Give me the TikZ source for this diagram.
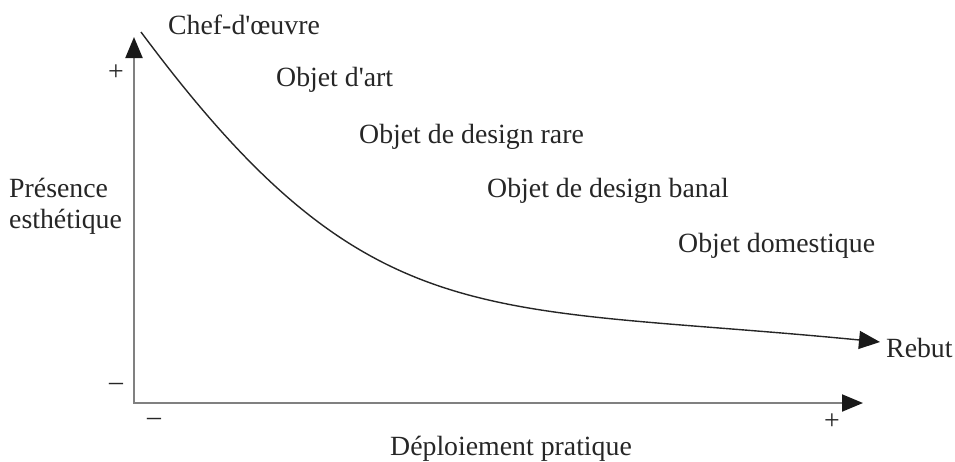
\documentclass[tikz,border=0pt]{standalone}
\usepackage{fontspec}
\setmainfont{Liberation Serif}[Ligatures=TeXOff]
\usetikzlibrary{arrows.meta}
\begin{document}
\begin{tikzpicture}[x=1pt,y=-1pt,
  lbl/.style={inner sep=0pt,anchor=base west,font=\fontsize{27.8}{32}\selectfont,text=black!85},
  sgn/.style={inner sep=0pt,anchor=center,font=\fontsize{27.8}{32}\selectfont,text=black!85},
  axis/.style={draw=black!50,line width=2pt,-{Triangle[length=21pt,width=17pt,color=black!90]}},
  crv/.style={draw=black!85,line width=1.4pt,-{Triangle[length=21pt,width=18pt,color=black!90]}}]
\useasboundingbox (0,0) rectangle (955,461);
\coordinate (O) at (134,403);
\coordinate (ytip) at (134,37);
\coordinate (xtip) at (863,403);
\coordinate (cstart) at (141,32);
\coordinate (cend) at (880,342);
\draw[axis] (O) -- (ytip);
\draw[axis] ([xshift=-1pt]O) -- (xtip);
\draw[crv] (cstart) .. controls (370,340) and (480,303) .. (cend);
\node[lbl] (chef) at (168,34) {Chef-d'œuvre};
\node[lbl] (art) at (276,86) {Objet d'art};
\node[lbl] (rare) at (359,143) {Objet de design rare};
\node[lbl] (banal) at (487,197) {Objet de design banal};
\node[lbl] (dom) at (678,252) {Objet domestique};
\node[lbl] (rebut) at (886,357) {Rebut};
\node[lbl] (pres) at (9,197) {Présence};
\node[lbl] (esth) at (9,228) {esthétique};
\node[lbl] (depl) at (390,455) {Déploiement pratique};
\node[sgn] (yplus) at (116,73) {+};
\node[sgn] (yminus) at (116,387) {\textendash};
\node[sgn] (xminus) at (154,422) {\textendash};
\node[sgn] (xplus) at (832,422) {+};
\end{tikzpicture}
\end{document}
